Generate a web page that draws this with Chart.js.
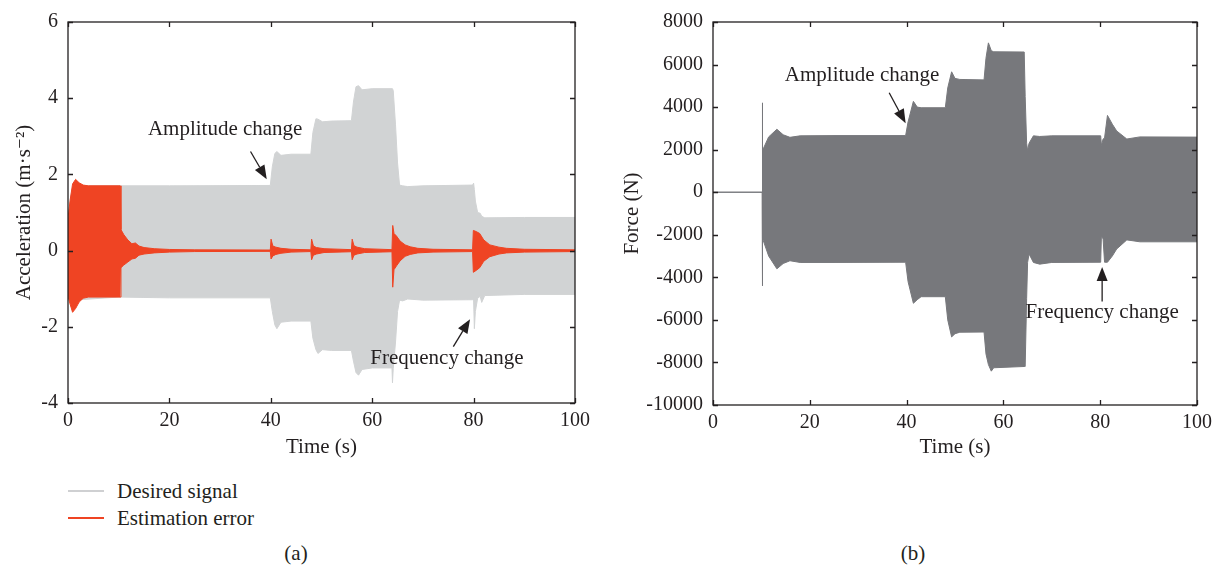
<!DOCTYPE html>
<html>
<head>
<meta charset="utf-8">
<script src="https://cdn.jsdelivr.net/npm/chart.js@4.4.1/dist/chart.umd.min.js"></script>
<style>
  body { margin: 0; background: #fff; }
  #wrap { position: relative; width: 1221px; height: 567px; background: #fff; font-family: "Liberation Serif", "DejaVu Serif", serif; color: #231f20; }
  .box { position: absolute; top: 0; height: 470px; }
  #boxA { left: 0; width: 600px; }
  #boxB { left: 600px; width: 621px; }
  .key { position: absolute; left: 68px; width: 36px; height: 2px; }
  .keytext { position: absolute; left: 117px; font-size: 21px; line-height: 24px; }
  .cap { position: absolute; top: 540px; font-size: 21px; line-height: 26px; width: 60px; text-align: center; }
</style>
</head>
<body>
<div id="wrap">
  <div class="box" id="boxA"><canvas id="accChart"></canvas></div>
  <div class="box" id="boxB"><canvas id="forceChart"></canvas></div>
  <div class="key" style="top:490px;background:#cfd0d2"></div>
  <div class="keytext" style="top:479px">Desired signal</div>
  <div class="key" style="top:517px;background:#ef4423"></div>
  <div class="keytext" style="top:506px">Estimation error</div>
  <div class="cap" style="left:266px">(a)</div>
  <div class="cap" style="left:883px">(b)</div>
</div>
<script>
// acceleration envelope of the reference signal (m/s^2)
const desiredTime  = [0, 0.5, 1, 10, 20, 39.9, 40.3, 40.8, 41.2, 42, 44, 47.9, 48.3, 48.9, 49.3, 50.2, 52, 55.9, 56.3, 56.8, 57.3, 58, 60, 63.9, 64.0, 64.15, 64.6, 65.0, 65.4, 66, 67, 70, 79.8, 80.0, 80.15, 80.35, 80.8, 81.3, 81.6, 82.2, 90, 100];
const desiredUpper = [0.8, 1.4, 1.7, 1.7, 1.7, 1.71, 2.2, 2.55, 2.6, 2.5, 2.53, 2.53, 3.1, 3.46, 3.45, 3.38, 3.4, 3.41, 3.9, 4.3, 4.33, 4.22, 4.25, 4.25, 4.25, 4.2, 3.3, 2.3, 1.72, 1.7, 1.68, 1.7, 1.72, 1.77, 1.6, 1.3, 1.0, 0.98, 0.9, 0.86, 0.87, 0.87];
const desiredLower = [-1.2, -1.25, -1.3, -1.22, -1.24, -1.24, -1.6, -1.95, -2.05, -1.88, -1.85, -1.85, -2.3, -2.6, -2.7, -2.6, -2.62, -2.62, -2.9, -3.2, -3.27, -3.12, -3.08, -3.08, -3.47, -3.1, -2.4, -1.6, -1.3, -1.32, -1.27, -1.3, -1.29, -1.3, -2.05, -1.6, -1.25, -1.2, -1.36, -1.18, -1.15, -1.15];

// estimation error envelope (m/s^2)
const errorTime  = [0, 0.4, 0.9, 1.5, 2.2, 3.0, 4, 10.3, 10.45, 11, 11.8, 12.6, 13.3, 14, 15, 17, 20, 25, 39.9, 40.05, 40.4, 41, 42, 44, 47.9, 48.05, 48.4, 49, 50.5, 55.9, 56.05, 56.4, 57, 58.5, 63.9, 64.05, 64.3, 64.8, 65.5, 66.5, 67.5, 69, 72, 79.8, 79.95, 80.5, 81.2, 82, 83.2, 85, 86.5, 90, 100];
const errorUpper = [0.85, 1.3, 1.75, 1.87, 1.78, 1.72, 1.7, 1.7, 0.55, 0.42, 0.28, 0.18, 0.2, 0.12, 0.08, 0.05, 0.03, 0.02, 0.015, 0.3, 0.12, 0.09, 0.06, 0.035, 0.02, 0.3, 0.12, 0.08, 0.05, 0.025, 0.3, 0.13, 0.09, 0.05, 0.025, 0.66, 0.45, 0.38, 0.25, 0.15, 0.1, 0.06, 0.035, 0.02, 0.53, 0.5, 0.45, 0.28, 0.15, 0.09, 0.06, 0.035, 0.02];
const errorLower = [-1.2, -1.4, -1.62, -1.52, -1.35, -1.25, -1.22, -1.22, -0.45, -0.38, -0.3, -0.22, -0.2, -0.12, -0.09, -0.06, -0.04, -0.025, -0.02, -0.22, -0.14, -0.1, -0.07, -0.04, -0.025, -0.24, -0.12, -0.09, -0.05, -0.03, -0.24, -0.12, -0.09, -0.05, -0.03, -0.96, -0.5, -0.4, -0.27, -0.15, -0.1, -0.06, -0.04, -0.025, -0.57, -0.52, -0.45, -0.28, -0.16, -0.09, -0.06, -0.04, -0.025];

// actuator force envelope (N)
const forceTime  = [0, 10.15, 10.2, 10.25, 11.5, 13.2, 14.5, 15.9, 18, 25, 39.8, 40.3, 41.4, 42.2, 43, 48.0, 48.5, 49.3, 50.0, 51, 56.0, 56.4, 56.9, 57.5, 58, 64.3, 64.5, 64.8, 65.0, 65.3, 66.2, 67.5, 70, 80.1, 80.25, 80.6, 80.9, 81.5, 82.5, 83.4, 85.5, 88.2, 100];
const forceUpper = [0, 0, 4200, 1960, 2600, 2960, 2700, 2580, 2650, 2660, 2660, 3300, 4270, 4000, 3970, 3970, 4900, 5660, 5350, 5300, 5280, 6300, 7020, 6650, 6600, 6590, 4500, 2300, 1960, 2300, 2650, 2620, 2650, 2650, 2200, 2500, 2550, 3610, 3200, 2880, 2500, 2600, 2590];
const forceLower = [0, 0, -4400, -2170, -3000, -3600, -3350, -3220, -3300, -3300, -3290, -4200, -5220, -5050, -4910, -4910, -6000, -6800, -6650, -6580, -6570, -7600, -8100, -8410, -8250, -8190, -8190, -5000, -3300, -2900, -3300, -3380, -3300, -3290, -2040, -2200, -3290, -3290, -3000, -2670, -2240, -2330, -2330];

const timeTicks = [0, 20, 40, 60, 80, 100];
const accTicks = [-4, -2, 0, 2, 4, 6];
const forceTicks = [-10000, -8000, -6000, -4000, -2000, 0, 2000, 4000, 6000, 8000];

const INK = '#231f20';
const FONT = '"Liberation Serif", "DejaVu Serif", serif';

function points(t, v) {
    return t.map((x, i) => ({ x: x, y: v[i] }));
}

function band(label, t, v, color, fill) {
    return {
        label: label, data: points(t, v),
        borderColor: color, backgroundColor: color, borderWidth: 1,
        pointRadius: 0, tension: 0, fill: fill
    };
}

// box round the plot with short ticks pointing inwards
const framePlugin = {
    id: 'frame',
    afterDraw(chart) {
        const { ctx, chartArea: a, scales: { x, y } } = chart;
        const len = 5;
        ctx.save();
        ctx.strokeStyle = INK;
        ctx.lineWidth = 1.3;
        ctx.beginPath();
        x.ticks.forEach(t => {
            const px = Math.round(x.getPixelForValue(t.value)) + 0.5;
            ctx.moveTo(px, a.bottom); ctx.lineTo(px, a.bottom - len);
            ctx.moveTo(px, a.top); ctx.lineTo(px, a.top + len);
        });
        y.ticks.forEach(t => {
            const py = Math.round(y.getPixelForValue(t.value)) + 0.5;
            ctx.moveTo(a.left, py); ctx.lineTo(a.left + len, py);
            ctx.moveTo(a.right, py); ctx.lineTo(a.right - len, py);
        });
        ctx.stroke();
        ctx.strokeRect(a.left, a.top, a.right - a.left, a.bottom - a.top);
        ctx.restore();
    }
};

// text labels with arrows, placed in data units
const notePlugin = {
    id: 'notes',
    afterDraw(chart, args, opts) {
        const { ctx, scales: { x, y } } = chart;
        ctx.save();
        ctx.fillStyle = INK;
        ctx.strokeStyle = INK;
        ctx.font = '21px ' + FONT;
        ctx.textAlign = 'center';
        ctx.textBaseline = 'middle';
        (opts.items || []).forEach(n => {
            ctx.fillText(n.text, x.getPixelForValue(n.at[0]), y.getPixelForValue(n.at[1]));
            const x0 = x.getPixelForValue(n.from[0]), y0 = y.getPixelForValue(n.from[1]);
            const x1 = x.getPixelForValue(n.to[0]), y1 = y.getPixelForValue(n.to[1]);
            const ang = Math.atan2(y1 - y0, x1 - x0);
            const head = 14, half = 5.5;
            const bx = x1 - head * Math.cos(ang), by = y1 - head * Math.sin(ang);
            ctx.lineWidth = 1.3;
            ctx.beginPath();
            ctx.moveTo(x0, y0); ctx.lineTo(bx, by);
            ctx.stroke();
            ctx.beginPath();
            ctx.moveTo(x1, y1);
            ctx.lineTo(bx + half * Math.sin(ang), by - half * Math.cos(ang));
            ctx.lineTo(bx - half * Math.sin(ang), by + half * Math.cos(ang));
            ctx.closePath();
            ctx.fill();
        });
        ctx.restore();
    }
};

function axes(yMin, yMax, yStep, yTitle, yWidth, yTitlePad, xHeight) {
    const tickFont = { family: FONT, size: 20 };
    const titleFont = { family: FONT, size: 21 };
    return {
        x: {
            type: 'linear', min: timeTicks[0], max: timeTicks[timeTicks.length - 1],
            ticks: { stepSize: 20, color: INK, font: tickFont, padding: 6, maxRotation: 0 },
            grid: { display: false, drawTicks: false }, border: { display: false },
            title: { display: true, text: 'Time (s)', color: INK, font: titleFont, padding: { top: 0, bottom: 10 } },
            afterFit: s => { s.height = xHeight; }
        },
        y: {
            type: 'linear', min: yMin, max: yMax,
            ticks: { stepSize: yStep, color: INK, font: tickFont, padding: 10, format: { useGrouping: false } },
            grid: { display: false, drawTicks: false }, border: { display: false },
            title: { display: true, text: yTitle, color: INK, font: titleFont, padding: { top: yTitlePad, bottom: 0 } },
            afterFit: s => { s.width = yWidth; }
        }
    };
}

function baseOptions(scales, right, notes) {
    return {
        responsive: true, maintainAspectRatio: false, animation: false,
        layout: { padding: { top: 16, right: right, left: 0, bottom: 0 } },
        scales: scales,
        plugins: { legend: { display: false }, tooltip: { enabled: false }, notes: { items: notes } }
    };
}

document.addEventListener('DOMContentLoaded', function() {
    new Chart(document.getElementById('accChart'), {
        type: 'line',
        data: {
            datasets: [
                band('Estimation error', errorTime, errorUpper, '#ef4423', '+1'),
                band('', errorTime, errorLower, '#ef4423', false),
                band('Desired signal', desiredTime, desiredUpper, '#d1d3d4', '+1'),
                band('', desiredTime, desiredLower, '#d1d3d4', false)
            ]
        },
        options: baseOptions(axes(accTicks[0], accTicks[accTicks.length - 1], 2, 'Acceleration (m·s⁻²)', 68, 12, 67), 25, [
            { text: 'Amplitude change', at: [31.0, 3.19], from: [36.0, 2.6], to: [39.2, 1.87] },
            { text: 'Frequency change', at: [74.75, -2.82], from: [76.0, -2.52], to: [79.3, -1.8] }
        ]),
        plugins: [framePlugin, notePlugin]
    });

    new Chart(document.getElementById('forceChart'), {
        type: 'line',
        data: {
            datasets: [
                band('Force', forceTime, forceUpper, '#77787c', '+1'),
                band('', forceTime, forceLower, '#77787c', false)
            ]
        },
        options: baseOptions(axes(forceTicks[0], forceTicks[forceTicks.length - 1], 2000, 'Force (N)', 113, 20, 65), 24, [
            { text: 'Amplitude change', at: [30.8, 5509], from: [36.4, 4676], to: [39.8, 3241] },
            { text: 'Frequency change', at: [80.4, -5648], from: [80.4, -5139], to: [80.4, -3519] }
        ]),
        plugins: [framePlugin, notePlugin]
    });
});
</script>
</body>
</html>
